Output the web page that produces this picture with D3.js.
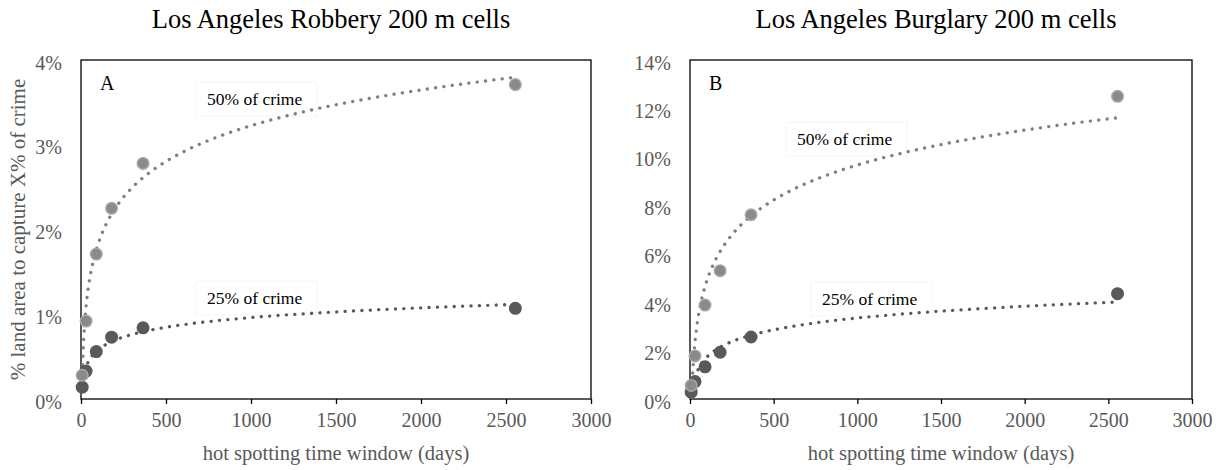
<!DOCTYPE html>
<html>
<head>
<meta charset="utf-8">
<script src="https://cdn.jsdelivr.net/npm/d3@7"></script>
<style>
  body { margin: 0; background: #fff; }
  text { font-family: "Liberation Serif", "Times New Roman", Times, serif; }
</style>
</head>
<body>
<div id="chart"></div>
<script>

// ----- data (x = window in days, y = % of land area) -----
var windowDays = [7, 30, 90, 180, 365, 2555];

var robbery50 = [0.28, 0.92, 1.71, 2.25, 2.78, 3.71];
var robbery25 = [0.14, 0.33, 0.56, 0.73, 0.84, 1.07];

var burglary50 = [0.56, 1.78, 3.88, 5.30, 7.61, 12.5];
var burglary25 = [0.28, 0.72, 1.33, 1.93, 2.56, 4.35];

var xTicks = [0, 500, 1000, 1500, 2000, 2500, 3000];
var robberyTicks = [0, 1, 2, 3, 4];
var burglaryTicks = [0, 2, 4, 6, 8, 10, 12, 14];

var seriesLabels = ["50% of crime", "25% of crime"];
var titles = ["Los Angeles Robbery 200 m cells", "Los Angeles Burglary 200 m cells"];

var serif = "Liberation Serif";

// Excel style logarithmic trendline: y = a*ln(x) + b
function logFit(xs, ys) {
  var lx = xs.map(function(v) { return Math.log(v); });
  var mx = d3.mean(lx), my = d3.mean(ys);
  var sxy = d3.sum(lx, function(v, i) { return (v - mx) * (ys[i] - my); });
  var sxx = d3.sum(lx, function(v) { return (v - mx) * (v - mx); });
  var a = sxy / sxx;
  var b = my - a * mx;
  return function(x) { return a * Math.log(x) + b; };
}

function init() {

  var svg = d3.select("#chart")
              .append("svg")
              .attr("width", 1224)
              .attr("height", 470);

  var grayText = "#595959";

  function drawPanel(p) {

    var x = d3.scaleLinear().domain([0, 3000]).range([p.left, p.right]);
    var y = d3.scaleLinear().domain([0, p.yMax]).range([p.bottom, p.top]);

    var g = svg.append("g");

    g.append("clipPath")
     .attr("id", "clip" + p.id)
     .append("rect")
     .attr("x", p.left).attr("y", p.top)
     .attr("width", p.right - p.left).attr("height", p.bottom - p.top);

    // x axis with outward ticks
    var xAxis = g.append("g")
                 .attr("transform", "translate(0," + p.bottom + ")")
                 .call(d3.axisBottom(x).tickValues(xTicks).tickSize(5).tickSizeOuter(0).tickPadding(9)
                         .tickFormat(d3.format("d")));
    xAxis.attr("font-family", serif);
    xAxis.select(".domain").remove();
    xAxis.selectAll("line").attr("stroke", "#000").attr("stroke-width", 1.3);
    xAxis.selectAll("text")
         .attr("fill", grayText)
         .style("font-size", "20px")
         .style("font-family", serif);

    // y axis, labels only
    var yAxis = g.append("g")
                 .attr("transform", "translate(" + p.left + ",0)")
                 .call(d3.axisLeft(y).tickValues(p.yTicks).tickSize(0).tickPadding(19)
                         .tickFormat(function(d) { return d + "%"; }));
    yAxis.attr("font-family", serif);
    yAxis.select(".domain").remove();
    yAxis.selectAll("text")
         .attr("fill", grayText)
         .attr("dy", "0.45em")
         .style("font-size", "20px")
         .style("font-family", serif);

    // plot frame
    g.append("rect")
     .attr("x", p.left).attr("y", p.top)
     .attr("width", p.right - p.left).attr("height", p.bottom - p.top)
     .attr("fill", "none")
     .attr("stroke", "#000")
     .attr("stroke-width", 1.3);

    // series labels sit in very faint boxes
    p.series.forEach(function(s) {
      g.append("rect")
       .attr("x", s.labelX - 11)
       .attr("y", s.labelY - 23)
       .attr("width", 121)
       .attr("height", 34)
       .attr("fill", "none")
       .attr("stroke", "#f6f6f6");
      g.append("text")
       .attr("x", s.labelX)
       .attr("y", s.labelY)
       .style("font-size", "17.5px")
       .style("font-family", serif)
       .attr("fill", "#000")
       .text(s.label);
    });

    // trendlines (dotted), sampled on a log spaced grid between first and last window
    var x0 = d3.min(windowDays), x1 = d3.max(windowDays);
    var samples = d3.range(0, 601).map(function(i) {
      return Math.exp(Math.log(x0) + (Math.log(x1) - Math.log(x0)) * i / 600);
    });

    var line = d3.line()
                 .x(function(d) { return x(d[0]); })
                 .y(function(d) { return y(d[1]); });

    p.series.forEach(function(s) {
      var f = logFit(windowDays, s.values);
      g.append("path")
       .datum(samples.map(function(v) { return [v, f(v)]; }))
       .attr("clip-path", "url(#clip" + p.id + ")")
       .attr("d", line)
       .attr("fill", "none")
       .attr("stroke", s.lineColor)
       .attr("stroke-width", 3.3)
       .attr("stroke-linecap", "round")
       .attr("stroke-dasharray", "0.1 8.3");
    });

    // markers: 25% first, 50% on top
    p.series.slice().reverse().forEach(function(s) {
      g.append("g")
       .selectAll("circle")
       .data(s.values)
       .enter().append("circle")
       .attr("cx", function(d, i) { return x(windowDays[i]); })
       .attr("cy", function(d) { return y(d); })
       .attr("r", 5.8)
       .attr("fill", s.fill)
       .attr("stroke", s.stroke)
       .attr("stroke-width", 1.4);
    });

    // panel letter
    g.append("text")
     .attr("x", p.left + 19)
     .attr("y", p.top + 30)
     .style("font-size", "20px")
     .style("font-family", serif)
     .attr("fill", "#000")
     .text(p.letter);

    // title
    g.append("text")
     .attr("x", (p.left + p.right) / 2 - 5)
     .attr("y", 28)
     .attr("text-anchor", "middle")
     .style("font-size", "26.5px")
     .style("font-family", serif)
     .attr("fill", "#000")
     .text(p.title);

    // x axis title
    g.append("text")
     .attr("x", (p.left + p.right) / 2)
     .attr("y", 460)
     .attr("text-anchor", "middle")
     .style("font-size", "20.5px")
     .style("font-family", serif)
     .attr("fill", grayText)
     .text("hot spotting time window (days)");
  }

  drawPanel({
    id: "A", letter: "A", title: titles[0],
    left: 81, right: 591, top: 60, bottom: 399,
    yMax: 4, yTicks: robberyTicks,
    series: [
      { values: robbery50, label: seriesLabels[0], labelX: 207, labelY: 105,
        fill: "#8a8a8a", stroke: "#a8a8a8", lineColor: "#7f7f7f" },
      { values: robbery25, label: seriesLabels[1], labelX: 207, labelY: 304,
        fill: "#595959", stroke: "#595959", lineColor: "#595959" }
    ]
  });

  drawPanel({
    id: "B", letter: "B", title: titles[1],
    left: 690, right: 1192, top: 60, bottom: 399,
    yMax: 14, yTicks: burglaryTicks,
    series: [
      { values: burglary50, label: seriesLabels[0], labelX: 797, labelY: 145,
        fill: "#8a8a8a", stroke: "#a8a8a8", lineColor: "#7f7f7f" },
      { values: burglary25, label: seriesLabels[1], labelX: 822, labelY: 305,
        fill: "#595959", stroke: "#595959", lineColor: "#595959" }
    ]
  });

  // y axis title, left panel only
  svg.append("text")
     .attr("transform", "translate(25," + 229.5 + ") rotate(-90)")
     .attr("text-anchor", "middle")
     .style("font-size", "21px")
     .style("font-family", serif)
     .attr("fill", grayText)
     .text("% land area to capture X% of crime");
}

window.onload = init;
</script>
</body>
</html>
